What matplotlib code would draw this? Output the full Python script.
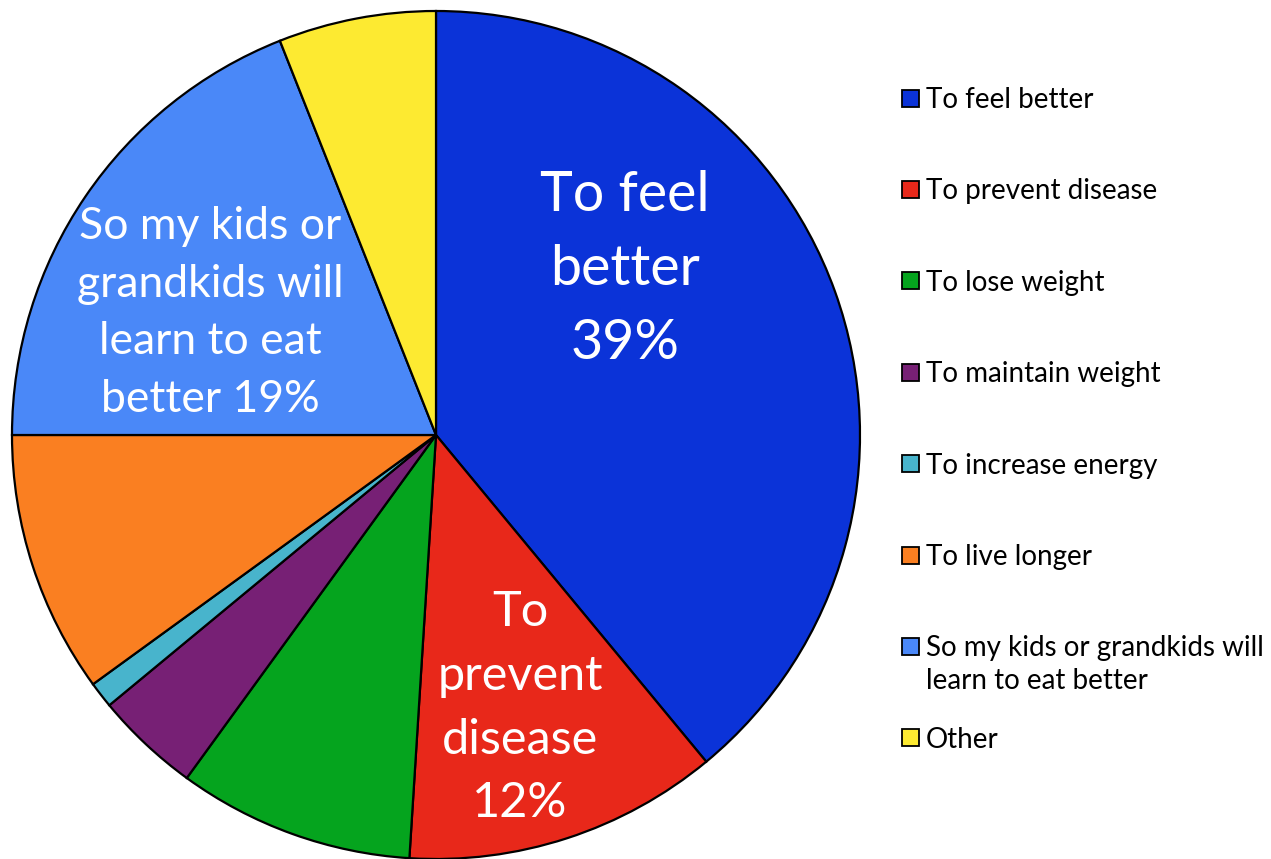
import matplotlib
matplotlib.use("Agg")
import matplotlib.pyplot as plt
from matplotlib.patches import Rectangle

plt.rcParams['font.family'] = ['Lato', 'DejaVu Sans']

# data (percent of respondents)
labels = ['To feel better', 'To prevent disease', 'To lose weight', 'To maintain weight',
          'To increase energy', 'To live longer',
          'So my kids or grandkids will\nlearn to eat better', 'Other']
values = [39, 12, 9, 4, 1, 10, 19, 6]
colors = ['#0B33D8', '#E8281A', '#05A41E', '#772075', '#48B4CC', '#FA7F21', '#4A88F8', '#FDEA31']

# big labels drawn inside the pie: (text, x, y, fontsize, linespacing) in pie data coords
inside = [
    ('To feel\nbetter\n39%', 0.445, 0.39, 40, 1.56),
    ('To\nprevent\ndisease\n12%', 0.198, -0.643, 35, 1.55),
    ('So my kids or\ngrandkids will\nlearn to eat\nbetter 19%', -0.533, 0.288, 32, 1.5),
]

W, H = 1271, 859
fig = plt.figure(figsize=(W / 100, H / 100), dpi=100)
cx, cy, r = 436, 435, 424
ax = fig.add_axes([(cx - r) / W, (H - cy - r) / H, 2 * r / W, 2 * r / H])

ax.pie(values, colors=colors, startangle=90, counterclock=False, radius=1,
       wedgeprops=dict(edgecolor='black', linewidth=1.6))
ax.set_xlim(-1, 1)
ax.set_ylim(-1, 1)
ax.set_aspect('equal')
ax.axis('off')

for txt, x, y, fs, ls in inside:
    ax.text(x, y, txt, color='white', fontsize=fs, ha='center', va='center',
            linespacing=ls)

# legend on the right, drawn by hand to match the spacing
sq = 17
y0, step = 98, 91.4
for i, (lab, c) in enumerate(zip(labels, colors)):
    yc = y0 + i * step
    fig.patches.append(Rectangle((902 / W, (H - yc - sq / 2) / H), sq / W, sq / H,
                                 facecolor=c, edgecolor='black', linewidth=1.3,
                                 transform=fig.transFigure, figure=fig))
    fig.text(926 / W, (H - yc + 11) / H, lab, fontsize=20, ha='left', va='top',
             linespacing=1.3)

fig.savefig('out.png', dpi=100)
